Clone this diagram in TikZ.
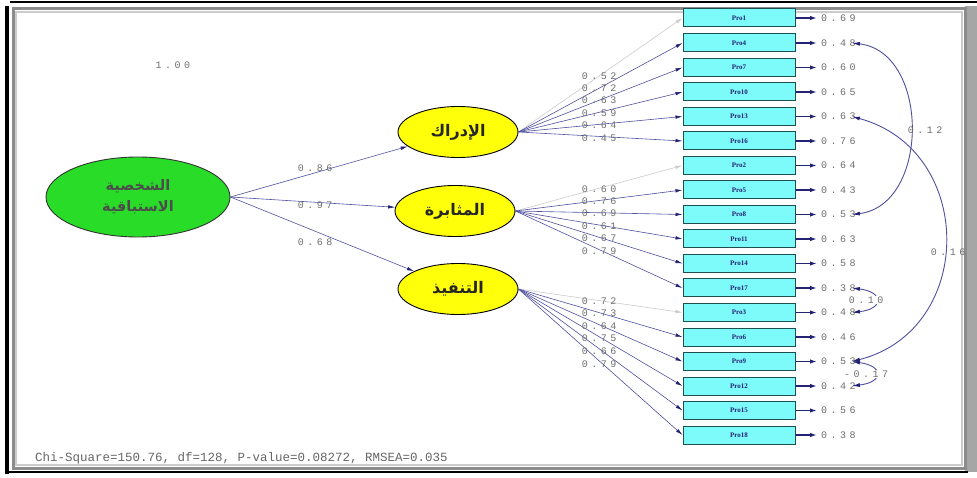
\documentclass[tikz,border=0pt]{standalone}
\usepackage{fontspec}
\setmainfont{Liberation Sans}
\TeXXeTstate=1
\newfontfamily\arabicfont[Script=Arabic]{DejaVu Sans}
\newfontfamily\numfont[LetterSpace=35]{Liberation Mono}
\newfontfamily\fitfont{Liberation Mono}
\newfontfamily\boxfont{Liberation Serif}
\usetikzlibrary{arrows.meta,shapes.geometric}
\definecolor{navy}{RGB}{35,35,115}
\definecolor{lineblue}{RGB}{80,80,160}
\definecolor{cyanbox}{RGB}{125,250,250}
\definecolor{boxborder}{RGB}{30,80,80}
\definecolor{greenfill}{RGB}{40,220,40}
\definecolor{yellowfill}{RGB}{255,255,10}
\definecolor{numgray}{RGB}{110,110,110}
\tikzset{
  ind/.style={draw=boxborder, fill=cyanbox, minimum width=112, minimum height=18, inner sep=0, line width=1,
    font=\boxfont\bfseries\fontsize{7}{7}\selectfont, text=navy},
  latY/.style={ellipse, draw=black, fill=yellowfill, minimum width=120, minimum height=51, inner sep=0, line width=0.9,
    font=\arabicfont\bfseries\fontsize{16}{16}\selectfont, text=black!85},
  latG/.style={ellipse, draw=black!80, fill=greenfill, minimum width=184, minimum height=80, inner sep=0, line width=0.9,
    font=\arabicfont\bfseries\fontsize{14.5}{21}\selectfont, text=black!70, align=center},
  num/.style={font=\numfont\fontsize{10}{10}\selectfont, text=numgray, inner sep=0},
  load/.style={draw=lineblue, line width=0.6, -{Latex[length=7,width=3.5,color=navy]}},
  fixload/.style={draw=black!20, line width=0.6, -{Latex[length=7,width=3.5,color=black!20]}},
  errarr/.style={draw=navy, line width=1.4, -{Latex[length=7,width=4.5]}},
  cov/.style={draw=lineblue, line width=0.9, {Latex[length=8,width=4,color=navy]}-{Latex[length=8,width=4,color=navy]}},
}
\begin{document}
\begin{tikzpicture}[x=1pt,y=-1pt]
\useasboundingbox (0,0) rectangle (977,478);
\fill[white] (0,0) rectangle (977,478);
% frame
\fill[black!35] (965,6) rectangle (977,472);
\draw[black!45, line width=3] (13,9) rectangle (965,468);
\draw[black!20, line width=2] (16,12) rectangle (962,465);
\draw[black, line width=2.5] (10,2) -- (977,2);
\draw[black, line width=3.5] (7,6) -- (7,474);
\draw[black, line width=2] (7,471.5) -- (968,471.5);

% latent variables
\node[latG] (G) at (138,197) {\beginR الشخصية\endR\\\beginR الاستباقية\endR};
\node[latY] (L1) at (458,132) {\beginR الإدراك\endR};
\node[latY] (L2) at (455,211) {\beginR المثابرة\endR};
\node[latY] (L3) at (458,289) {\beginR التنفيذ\endR};

\node[num] (v1) at (173,65) {1.00};

\draw[load] (G.east) -- (L1);
\draw[load] (G.east) -- (L2);
\draw[load] (G.east) -- (L3);
\node[num] (g1) at (315,168) {0.86};
\node[num] (g2) at (315,205) {0.97};
\node[num] (g3) at (315,242) {0.68};

% indicators
\foreach \i/\lab/\ev/\yy in {1/Pro1/0.69/18, 2/Pro4/0.48/43, 3/Pro7/0.60/67.5, 4/Pro10/0.65/92, 5/Pro13/0.63/116.5, 6/Pro16/0.76/141,
  7/Pro2/0.64/165.5, 8/Pro5/0.43/190, 9/Pro8/0.53/214.5, 10/Pro11/0.63/239, 11/Pro14/0.58/263.5, 12/Pro17/0.38/288,
  13/Pro3/0.48/312.5, 14/Pro6/0.46/337, 15/Pro9/0.53/361.5, 16/Pro12/0.42/386, 17/Pro15/0.56/410.5, 18/Pro18/0.38/435}{
  \node[ind] (p\i) at (739,\yy) {\lab};
  \node[num, anchor=west] (e\i) at (821,\yy) {\ev};
  \draw[errarr] (p\i.east) -- ([xshift=-4]e\i.west);
}

% loadings
\draw[fixload] (L1.east) -- (p1.west);
\foreach \i in {2,...,6}{\draw[load] (L1.east) -- (p\i.west);}
\draw[fixload] (L2.east) -- (p7.west);
\foreach \i in {8,...,12}{\draw[load] (L2.east) -- (p\i.west);}
\draw[fixload] (L3.east) -- (p13.west);
\foreach \i in {14,...,18}{\draw[load] (L3.east) -- (p\i.west);}

\foreach \t/\yy [count=\k] in {0.52/76, 0.72/88, 0.63/100, 0.59/113, 0.64/125, 0.45/138,
  0.60/189, 0.76/201, 0.69/213, 0.61/226, 0.67/238, 0.79/251,
  0.72/301, 0.73/313, 0.64/326, 0.75/338, 0.66/351, 0.79/364}{
  \node[num] (w\k) at (599,\yy) {\t};
}

% error covariances
\draw[cov] ([xshift=-4]e2.east) .. controls (930,52) and (930,205) .. ([xshift=-4]e9.east);
\draw[cov] ([xshift=-4]e5.east) .. controls (976,150) and (976,330) .. ([xshift=-4]e15.east);
\draw[cov] ([xshift=-4]e12.east) .. controls (884,292) and (884,309) .. ([xshift=-4]e13.east);
\draw[cov] ([xshift=-4]e15.east) .. controls (884,366) and (884,382) .. ([xshift=-4]e16.east);
\node[num] (c1) at (925,130) {0.12};
\node[num] (c2) at (948,252) {0.16};
\node[num, fill=white, inner sep=0.5] (c3) at (866,300) {0.10};
\node[num, fill=white, inner sep=0.5] (c4) at (866,374) {-0.17};

% fit statistics
\node[anchor=west, inner sep=0, font=\fitfont\fontsize{12.5}{12.5}\selectfont, text=black!60] (fit) at (35,458)
  {Chi-Square=150.76, df=128, P-value=0.08272, RMSEA=0.035};
\end{tikzpicture}
\end{document}
